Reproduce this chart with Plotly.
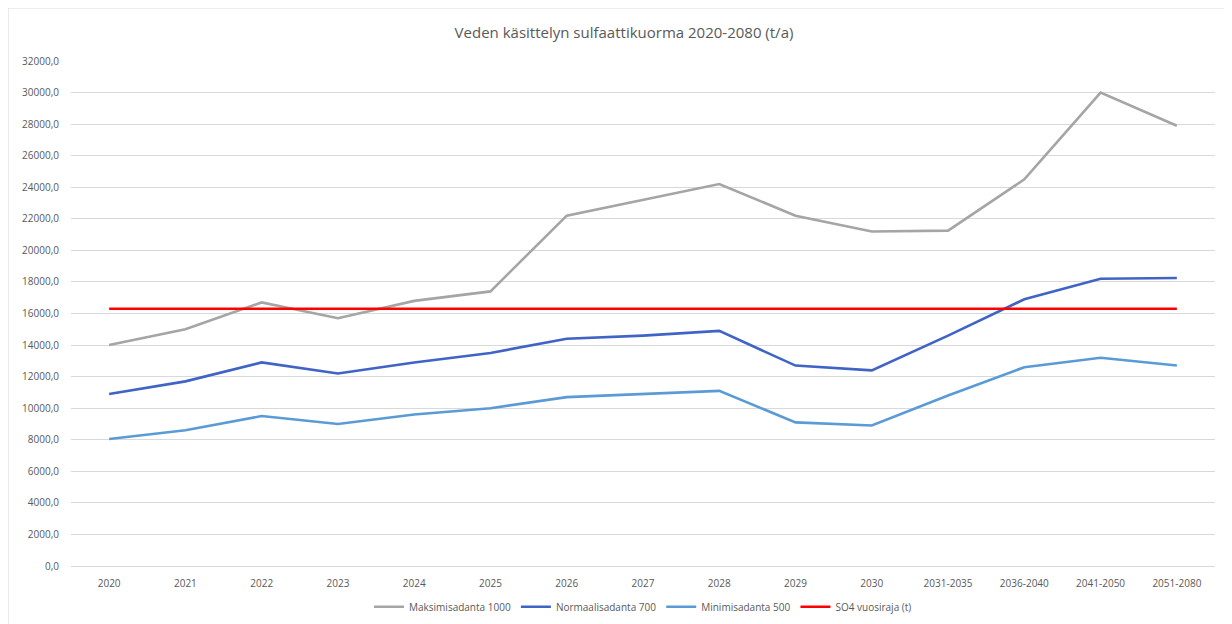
import plotly.graph_objects as go

categories = ['2020', '2021', '2022', '2023', '2024', '2025', '2026', '2027', '2028',
              '2029', '2030', '2031-2035', '2036-2040', '2041-2050', '2051-2080']

maksimi_1000 = [14000, 15000, 16700, 15700, 16800, 17400, 22200, 23200, 24200,
                22200, 21200, 21250, 24500, 30000, 27900]
normaali_700 = [10900, 11700, 12900, 12200, 12900, 13500, 14400, 14600, 14900,
                12700, 12400, 14600, 16900, 18200, 18250]
minimi_500 = [8050, 8600, 9500, 9000, 9600, 10000, 10700, 10900, 11100,
              9100, 8900, 10800, 12600, 13200, 12700]
so4_raja = [16300] * len(categories)

series = [
    ('Maksimisadanta 1000', maksimi_1000, '#a5a5a5'),
    ('Normaalisadanta 700', normaali_700, '#4063c6'),
    ('Minimisadanta 500', minimi_500, '#5b9bd5'),
    ('SO4 vuosiraja (t)', so4_raja, '#ff0000'),
]

fig = go.Figure()
for name, vals, color in series:
    fig.add_trace(go.Scatter(x=categories, y=vals, mode='lines', name=name,
                             line=dict(color=color, width=2.6)))

# page body adds ~8px offset, margins compensate for it
fig.update_layout(
    width=1232, height=624,
    margin=dict(l=63, r=25, t=53, b=66, autoexpand=False),
    paper_bgcolor='white', plot_bgcolor='white',
    separators=', ',
    font=dict(family='Open Sans', size=10, color='#595959'),
    title=dict(text='Veden käsittelyn sulfaattikuorma 2020-2080 (t/a)',
               x=0.5, xanchor='center', y=0.96, yanchor='middle',
               font=dict(size=15, color='#595959')),
    legend=dict(orientation='h', x=0.5, xanchor='center', y=-0.052, yanchor='top',
                font=dict(size=10, color='#595959'), itemwidth=30,
                bgcolor='rgba(0,0,0,0)', traceorder='normal'),
    showlegend=True,
)
fig.update_xaxes(type='category', showgrid=False, showline=True, linecolor='#d9d9d9',
                 ticks='', ticklabelstandoff=8,
                 tickfont=dict(size=10, color='#595959'), range=[-0.5, 14.5])
fig.update_yaxes(range=[0, 32000], dtick=2000, tickformat='.1f', showgrid=True,
                 gridcolor='#d9d9d9', gridwidth=1, zeroline=False, showline=False,
                 ticks='outside', ticklen=9, tickcolor='white',
                 tickfont=dict(size=10, color='#595959'))

# outer chart border
fig.add_shape(type='rect', xref='paper', yref='paper',
              x0=-0.055, x1=1.0105, y0=-0.12, y1=1.105,
              line=dict(color='#d9d9d9', width=1), layer='below')

fig.write_html('out.html')
